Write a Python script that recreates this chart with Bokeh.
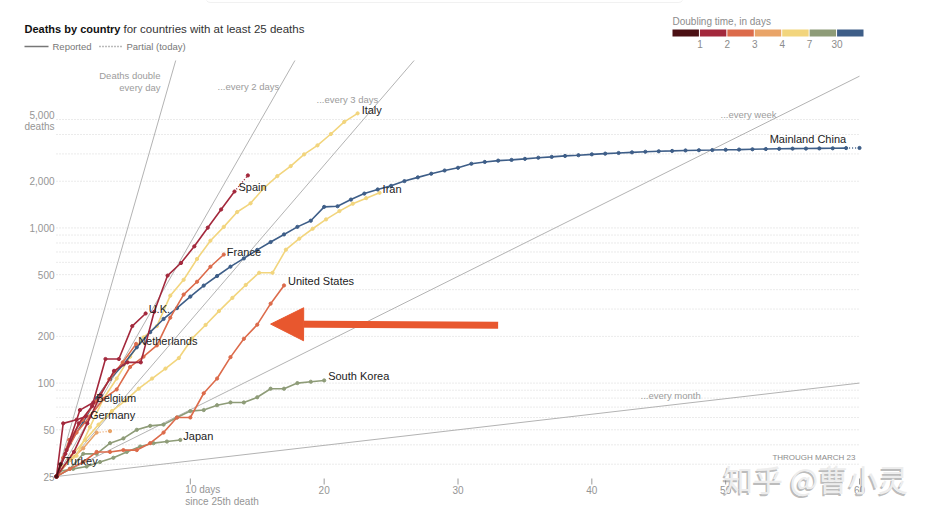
import math
from bokeh.plotting import figure
from bokeh.models import Label, Arrow, NormalHead, BoxAnnotation, Range1d
from bokeh.embed import file_html
from bokeh.resources import INLINE
from bokeh.core.properties import value

FONT = "Liberation Sans"

# ---------------- data (days since 25th death, cumulative deaths) ----------------
china_days = list(range(0, 60))
china_deaths = [25, 41, 56, 80, 106, 132, 170, 213, 259, 304, 361, 425, 490, 563, 636, 722,
                811, 908, 1016, 1113, 1367, 1380, 1523, 1665, 1770, 1868, 2004, 2118, 2236,
                2345, 2442, 2592, 2663, 2715, 2744, 2788, 2835, 2870, 2912, 2943, 2981, 3012,
                3042, 3070, 3097, 3119, 3136, 3158, 3169, 3176, 3189, 3199, 3213, 3226, 3237,
                3245, 3248, 3255, 3261, 3270]
china_partial = (60, 3277)

italy_days = [0, 0.5, 1.5, 2.5, 3.5, 4.5, 5.5, 6.5, 7.5, 8.5, 9.5, 10.5, 11.5, 12.5, 13.5,
              14.5, 15.5, 16.5, 17.5, 18.5, 19.5, 20.5, 21.5, 22.5]
italy_deaths = [25, 29, 34, 52, 79, 107, 148, 197, 233, 366, 463, 631, 827, 1016, 1266, 1441,
                1809, 2158, 2503, 2978, 3405, 4032, 4825, 5476]

iran_days = [0, 0.14, 1.14, 2.14, 3.14, 4.14, 5.14, 6.14, 7.14, 8.14, 9.14, 10.14, 11.14,
             12.14, 13.14, 14.14, 15.14, 16.14, 17.14, 18.14, 19.14, 20.14, 21.14, 22.14,
             23.14, 24.14]
iran_deaths = [25, 26, 34, 43, 54, 66, 77, 92, 107, 124, 145, 194, 237, 291, 354, 429, 514,
               514, 724, 853, 988, 1135, 1284, 1433, 1556, 1685]

spain_days = [0, 1.3, 2.3, 3.3, 4.3, 5.3, 6.3, 7.3, 8.3, 9.3, 10.3, 11.3, 12.3, 13.3]
spain_deaths = [25, 36, 55, 84, 120, 136, 136, 288, 493, 594, 761, 1004, 1315, 1717]
spain_partial = (14.3, 2180)

france_days = [0, 0.5, 1.5, 2.5, 3.5, 4.5, 5.5, 6.5, 7.5, 8.5, 9.5, 10.5, 11.5, 12.5]
france_deaths = [25, 33, 48, 61, 79, 91, 127, 148, 175, 264, 372, 450, 562, 674]

us_days = list(range(0, 18))
us_deaths = [25, 28, 31, 36, 36, 37, 37, 41, 48, 60, 60, 86, 107, 147, 193, 238, 325, 426]

uk_days = [0, 0.66, 1.66, 2.66, 3.66, 4.66, 5.66, 6.66]
uk_deaths = [25, 35, 55, 71, 143, 143, 233, 281]

netherlands_days = [0, 0.95, 1.95, 2.95, 3.95, 4.95, 5.95]
netherlands_deaths = [25, 43, 58, 76, 106, 136, 179]

korea_days = list(range(0, 21))
korea_deaths = [25, 28, 35, 35, 41, 44, 50, 53, 54, 60, 66, 67, 72, 75, 75, 81, 92, 92, 100,
                102, 104]

belgium_days = [0, 0.75, 1.75, 2.75]
belgium_deaths = [25, 37, 67, 75]

germany_days = [0, 0.5, 1.5, 2.2]
germany_deaths = [25, 55, 58, 61]

japan_days = [0, 0.25, 1.25, 2.25, 3.25, 4.25, 5.25, 6.25, 7.25, 8.25, 9.25]
japan_deaths = [25, 27, 28, 29, 31, 33, 36, 39, 41, 42, 43]

turkey_days = [0, 0.3]
turkey_deaths = [25, 30]

indonesia_days = [0, 1, 2, 3]
indonesia_deaths = [25, 32, 38, 48]
indonesia_partial = (4, 49)

# doubling-time colour scale
doubling_colors = ["#4b1014", "#a3283c", "#dc6b4b", "#e9a468", "#f2d57d", "#8e9c78", "#3e5e88"]
doubling_labels = ["1", "2", "3", "4", "7", "30"]

# reference doubling lines (days per doubling)
ref_periods = [1, 2, 3, 7, 30]

y_ticks = [25, 50, 100, 200, 500, 1000, 2000, 5000]
y_tick_labels = ["25", "50", "100", "200", "500", "1,000", "2,000", "5,000"]
grid_values = [30, 40, 50, 60, 70, 80, 90, 100, 200, 300, 400, 500, 600, 700, 800, 900,
               1000, 2000, 3000, 4000, 5000]
x_ticks = [20, 30, 40, 50, 60]
x_first_tick = 10

series = [
    # name, days, deaths, colour index, label dx, label dy, partial
    ("Indonesia", indonesia_days, indonesia_deaths, 3, None, None, indonesia_partial),
    ("Japan", japan_days, japan_deaths, 5, 3, -4, None),
    ("South Korea", korea_days, korea_deaths, 5, 4, -4, None),
    ("Iran", iran_days, iran_deaths, 4, 3, -4, None),
    ("Italy", italy_days, italy_deaths, 4, 4, -3, None),
    ("Mainland China", china_days, china_deaths, 6, None, None, china_partial),
    ("United States", us_days, us_deaths, 2, 4, -4, None),
    ("France", france_days, france_deaths, 2, 3, -3, None),
    ("Netherlands", netherlands_days, netherlands_deaths, 2, 2, -3, None),
    ("Germany", germany_days, germany_deaths, 1, 4, -1, None),
    ("Belgium", belgium_days, belgium_deaths, 1, 3, -4, None),
    ("U.K.", uk_days, uk_deaths, 1, 3, -4, None),
    ("Spain", spain_days, spain_deaths, 1, 4, -5, spain_partial),
    ("Turkey", turkey_days, turkey_deaths, 0, 4, -3, None),
]

# ---------------- geometry ----------------
W, H = 925, 515
LEFT, PLOT_W = 56, 803          # pixel of day 0, width of days 0..60
PLOT_BOTTOM, PLOT_TOP = 476, 60  # pixel rows of 25 deaths and of the top of the chart
Y_MIN, Y_MAX = 25, 12000
PPD = PLOT_W / 60.0
DPX = (PLOT_BOTTOM - PLOT_TOP) / math.log2(Y_MAX / Y_MIN)


def y_at_px(py):
    return Y_MIN * 2 ** ((PLOT_BOTTOM - py) / DPX)


x_range = Range1d(-LEFT / PPD, (W - LEFT) / PPD)
y_range = Range1d(y_at_px(H), y_at_px(0))

p = figure(width=W, height=H, title=None, x_range=x_range, y_range=y_range,
           y_axis_type="log", x_axis_location=None, y_axis_location=None,
           output_backend="svg", toolbar_location=None, min_border=0)
p.outline_line_color = None
p.grid.visible = False
p.background_fill_color = "white"
p.border_fill_color = "white"

# horizontal dotted gridlines across days 0..60
p.segment(x0=[0] * len(grid_values), x1=[60] * len(grid_values), y0=grid_values,
          y1=grid_values, line_color="#d6d6d6", line_dash="1 2", line_width=1)

# y tick labels
p.text(x=[0] * (len(y_ticks) - 1), y=y_ticks[:-1], text=y_tick_labels[:-1], x_offset=-2,
       text_font=value(FONT), text_font_size="10px", text_color="#959595",
       text_align="right", text_baseline="middle")
p.text(x=[0, 0], y=[y_ticks[-1], y_ticks[-1]], text=[y_tick_labels[-1], "deaths"],
       x_offset=-2, y_offset=[-4, 7], text_font=value(FONT), text_font_size="10px",
       text_color="#959595", text_align="right", text_baseline="middle")

# x ticks and labels
tick_y0, tick_y1 = y_at_px(PLOT_BOTTOM + 2), y_at_px(PLOT_BOTTOM + 8)
all_x = [x_first_tick] + x_ticks
p.segment(x0=all_x, x1=all_x, y0=[tick_y0] * len(all_x), y1=[tick_y1] * len(all_x),
          line_color="#9a9a9a", line_width=1)
p.text(x=x_ticks, y=[Y_MIN] * len(x_ticks), text=[str(t) for t in x_ticks], y_offset=13,
       text_font=value(FONT), text_font_size="10px", text_color="#959595",
       text_align="center", text_baseline="middle")
p.text(x=[x_first_tick, x_first_tick], y=[Y_MIN, Y_MIN],
       text=[f"{x_first_tick} days", "since 25th death"], x_offset=-5, y_offset=[13, 25],
       text_font=value(FONT), text_font_size="10px", text_color="#959595",
       text_align="left", text_baseline="middle")

# reference doubling lines, stopping at the top of the chart
for T in ref_periods:
    d_end = min(60, T * math.log2(Y_MAX / Y_MIN))
    p.line([0, d_end], [Y_MIN, Y_MIN * 2 ** (d_end / T)], line_color="#b3b3b3", line_width=1)

# country lines
for name, days, deaths, ci, dx, dy, partial in series:
    col = doubling_colors[ci]
    if partial is not None:
        p.line([days[-1], partial[0]], [deaths[-1], partial[1]], line_color=col,
               line_width=1.4, line_dash="1 2")
        p.scatter([partial[0]], [partial[1]], size=3.2, color=col)
    p.line(days, deaths, line_color=col, line_width=1.6)
    p.scatter(days, deaths, size=3.2, color=col)

for name, days, deaths, ci, dx, dy, partial in series:
    if dx is None:
        continue
    p.text(x=[days[-1]], y=[deaths[-1]], text=[name], x_offset=dx, y_offset=dy,
           text_font=value(FONT), text_font_size="11px", text_color="#222222",
           text_baseline="middle", text_align="left")

p.text(x=[china_days[-1]], y=[china_deaths[-1]], text=["Mainland China"], x_offset=0,
       y_offset=-9, text_font=value(FONT), text_font_size="11px", text_color="#222222",
       text_baseline="middle", text_align="right")

# red annotation arrow pointing at the United States line
ARROW = "#e8572e"
p.add_layout(Arrow(end=NormalHead(size=33, fill_color=ARROW, line_color=ARROW),
                   x_start=33, y_start=236, x_end=16.0, y_end=240,
                   line_color=ARROW, line_width=7))


# ---------------- annotations in screen space ----------------
def lab(text, px, py, size="10px", color="#8c8c8c", align="left", style="normal",
        font=FONT, alpha=1.0):
    p.add_layout(Label(x=px, y=H - py, x_units="screen", y_units="screen", text=text,
                       text_font=font, text_font_size=size, text_color=color,
                       text_align=align, text_baseline="middle", text_font_style=style,
                       text_alpha=alpha))


# faint edge of a box at the very top of the screenshot
p.add_layout(BoxAnnotation(left=205, right=683, top=H + 12, bottom=H - 2, left_units="screen",
                           right_units="screen", top_units="screen", bottom_units="screen",
                           fill_alpha=0, line_color="#cfcfcf", line_width=1, border_radius=5))

lab("Deaths by country", 24, 28, size="11px", color="#111111", style="bold")
lab("for countries with at least 25 deaths", 123, 28, size="11.5px", color="#333333")

p.add_layout(Arrow(end=None, x_start=24, y_start=H - 46, x_end=48, y_end=H - 46,
                   start_units="screen", end_units="screen", line_color="#777777",
                   line_width=1.5))
lab("Reported", 52, 46, size="9.5px", color="#777777")
p.add_layout(Arrow(end=None, x_start=99, y_start=H - 46, x_end=123, y_end=H - 46,
                   start_units="screen", end_units="screen", line_color="#777777",
                   line_width=1.5, line_dash="1 2"))
lab("Partial (today)", 126, 46, size="9.5px", color="#777777")

# reference line captions
lab("Deaths double", 160, 75, size="9.5px", color="#9c9c9c", align="right")
lab("every day", 160, 87, size="9.5px", color="#9c9c9c", align="right")
lab("...every 2 days", 217, 86, size="9.5px", color="#9c9c9c")
lab("...every 3 days", 316, 99, size="9.5px", color="#9c9c9c")
lab("...every week", 720, 114, size="9.5px", color="#9c9c9c")
lab("...every month", 640, 395, size="9.5px", color="#9c9c9c")

lab("THROUGH MARCH 23", 855, 457, size="8px", color="#8c8c8c", align="right")

# doubling time legend
lab("Doubling time, in days", 672, 21, size="10px", color="#8c8c8c")
x0, x1 = 672, 864
bw = (x1 - x0) / len(doubling_colors)
for i, col in enumerate(doubling_colors):
    p.add_layout(BoxAnnotation(left=x0 + i * bw, right=x0 + (i + 1) * bw - 1,
                               top=H - 29, bottom=H - 36, left_units="screen",
                               right_units="screen", top_units="screen", bottom_units="screen",
                               fill_color=col, fill_alpha=1, line_color=None))
for i, t in enumerate(doubling_labels):
    lab(t, x0 + (i + 1) * bw, 43, size="10px", color="#8c8c8c", align="center")

# watermark
lab("知乎 @曹小灵", 721, 479, size="30px", color="#7a7a7a", font="Noto Sans CJK SC", alpha=0.5)
lab("知乎 @曹小灵", 722.5, 477.5, size="30px", color="#ededed", font="Noto Sans CJK SC")

open("out.html", "w").write(file_html(p, INLINE))
